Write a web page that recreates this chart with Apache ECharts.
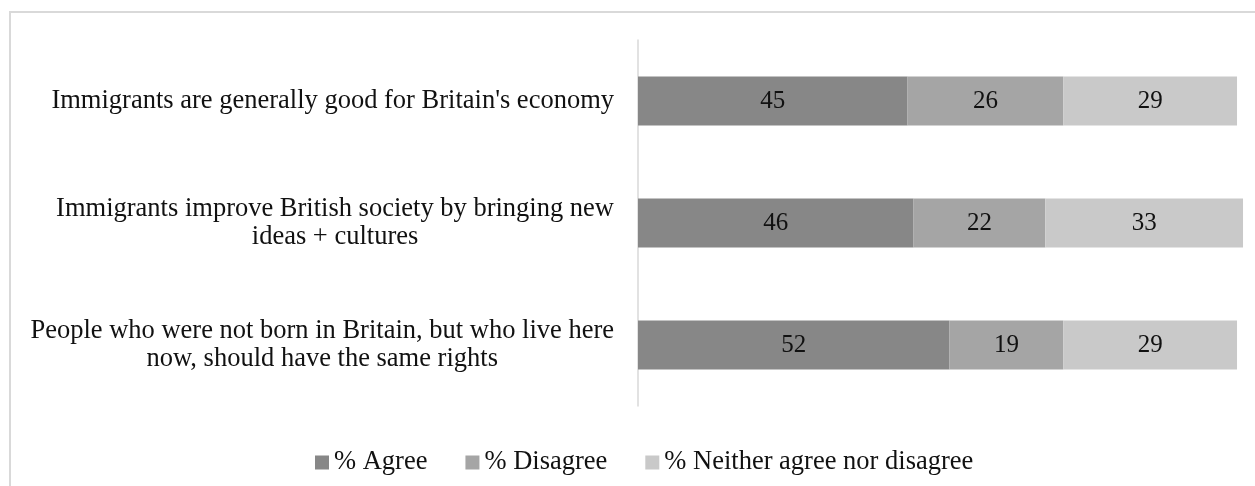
<!DOCTYPE html>
<html>
<head>
<meta charset="utf-8">
<script src="https://cdn.jsdelivr.net/npm/echarts@6/dist/echarts.min.js"></script>
<style>
  html, body { margin: 0; padding: 0; background: #fff; }
  #chart { width: 1255px; height: 486px; }
</style>
</head>
<body>
<div id="chart"></div>
<script>
// 数据
let categories = [
  "Immigrants are generally good for Britain's economy",
  "Immigrants improve British society by bringing new\nideas + cultures",
  "People who were not born in Britain, but who live here\nnow, should have the same rights"
]
let seriesNames = ['% Agree', '% Disagree', '% Neither agree nor disagree']
let agree = [45, 46, 52]
let disagree = [26, 22, 19]
let neither = [29, 33, 29]
let colors = ['#878787', '#a5a5a5', '#c9c9c9']

const fontFamily = "'Liberation Serif', 'Times New Roman', serif"

function barSeries(name, data) {
  return {
    name: name,
    type: 'bar',
    stack: 'total',
    barWidth: 49,
    data: data,
    label: {
      show: true,
      position: 'inside',
      color: '#111',
      fontFamily: fontFamily,
      fontSize: 25
    }
  }
}

let chart = echarts.init(document.getElementById('chart'))
chart.setOption({
  animation: false,
  color: colors,
  graphic: [{
    type: 'polyline',
    shape: { points: [[10, 486], [10, 12], [1255, 12]] },
    style: { stroke: '#d9d9d9', lineWidth: 2, fill: null }
  }],
  grid: { left: 638, top: 40, width: 620, height: 366 },
  legend: {
    data: seriesNames,
    left: 310,
    top: 444,
    icon: 'rect',
    itemWidth: 14,
    itemHeight: 14,
    itemGap: 38,
    textStyle: { fontFamily: fontFamily, fontSize: 26.5, color: '#111' }
  },
  xAxis: {
    type: 'value',
    min: 0,
    max: 103,
    show: false
  },
  yAxis: {
    type: 'category',
    inverse: true,
    data: categories,
    axisLine: { show: true, lineStyle: { color: '#d9d9d9', width: 1.5 } },
    axisTick: { show: false },
    axisLabel: {
      margin: 24,
      formatter: function (v) {
        return v.split('\n').map(l => '{c|' + l + '}').join('\n')
      },
      rich: {
        c: { align: 'center', fontFamily: fontFamily, fontSize: 26.5, lineHeight: 28, color: '#111' }
      }
    }
  },
  series: [
    barSeries(seriesNames[0], agree),
    barSeries(seriesNames[1], disagree),
    barSeries(seriesNames[2], neither)
  ]
})
</script>
</body>
</html>
